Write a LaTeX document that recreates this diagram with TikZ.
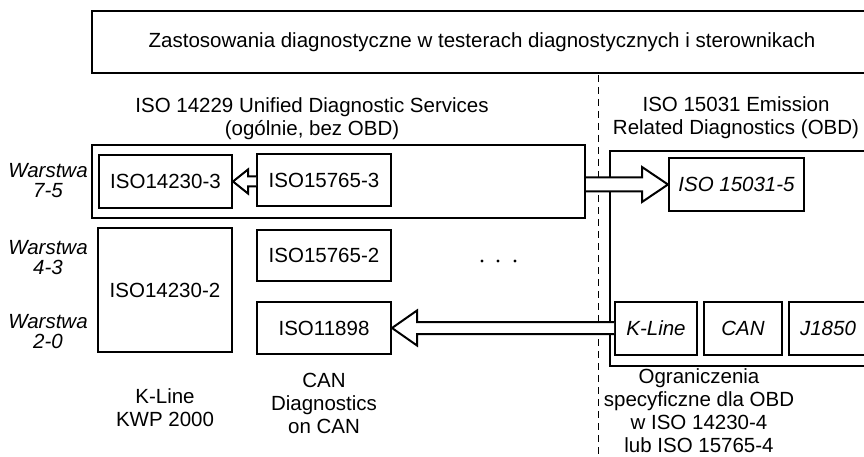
\documentclass[tikz,border=0pt]{standalone}
\usepackage{fontspec}
\setmainfont{Liberation Sans}
\usetikzlibrary{calc}

\tikzset{
  box/.style={draw, line width=2pt, inner sep=0pt, align=center,
    font=\fontsize{20.5}{23}\selectfont},
  frame/.style={draw, line width=2.4pt, inner sep=0pt},
  txt/.style={align=center, inner sep=0pt, font=\fontsize{20.5}{23}\selectfont},
  layer/.style={align=center, inner sep=0pt, font=\fontsize{20.5}{20}\selectfont\itshape},
  hollow/.style={line width=2pt, fill=white, line join=miter},
}

% 空心箭头：起点, 箭尖, 箭杆半宽, 箭头半宽, 箭头长度（带符号）
\newcommand{\hollowarrow}[5]{%
  \filldraw[hollow] let \p1=(#1), \p2=(#2) in
    (\x1,{\y2+#3}) -- ({\x2-(#5)},{\y2+#3}) -- ({\x2-(#5)},{\y2+#4}) -- (\p2)
    -- ({\x2-(#5)},{\y2-#4}) -- ({\x2-(#5)},{\y2-#3}) -- (\x1,{\y2-#3});}

\begin{document}
\begin{tikzpicture}[x=1pt, y=-1pt]
    \useasboundingbox (0,0) rectangle (864,457);

    % 分隔虚线
    \coordinate (cut top) at (598,75);
    \coordinate (cut bot) at (598,457);
    \draw[dash pattern=on 7pt off 5pt, line width=1pt] (cut top) -- (cut bot);

    % 顶部应用框
    \node[box, minimum width=780pt, minimum height=62pt] (apps) at (482,42)
        {Zastosowania diagnostyczne w testerach diagnostycznych i sterownikach};

    % 两侧标题
    \node[txt] (uds) at (312,119) {ISO 14229 Unified Diagnostic Services\\(ogólnie, bez OBD)};
    \node[txt] (obd) at (736,118) {ISO 15031 Emission\\Related Diagnostics (OBD)};

    % 外框
    \node[frame, minimum width=493pt, minimum height=73pt] (uds frame) at (338.5,181.5) {};
    \node[frame, minimum width=290pt, minimum height=215pt] (obd frame) at (755,258.5) {};

    % 层标签
    \node[layer] (w75) at (48,181) {Warstwa\\7-5};
    \node[layer] (w43) at (48,258) {Warstwa\\4-3};
    \node[layer] (w20) at (48,332) {Warstwa\\2-0};

    % K-Line 列
    \node[box, minimum width=133pt, minimum height=53pt] (kwp3) at (165.5,181.5) {ISO14230-3};
    \node[box, minimum width=134pt, minimum height=124pt] (kwp2) at (165,290) {ISO14230-2};

    % CAN 列
    \node[box, minimum width=134pt, minimum height=52pt] (can3) at (324,180) {ISO15765-3};
    \node[box, minimum width=134pt, minimum height=51pt] (can2) at (324,255.5) {ISO15765-2};
    \node[box, minimum width=134pt, minimum height=52pt] (can1) at (324,328) {ISO11898};

    % 省略号
    \foreach \dx in {482,498,515}
        \fill (\dx,261) circle (1.6pt);

    % OBD 列
    \node[box, minimum width=135pt, minimum height=53pt, font=\fontsize{20.5}{23}\selectfont\itshape]
        (obd5) at (736.5,184.5) {ISO 15031-5};
    \node[box, minimum width=82pt, minimum height=53pt, font=\fontsize{20.5}{23}\selectfont\itshape]
        (kline) at (656,328.5) {K-Line};
    \node[box, minimum width=78pt, minimum height=53pt, font=\fontsize{20.5}{23}\selectfont\itshape]
        (canbus) at (743,328.5) {CAN};
    \node[box, minimum width=78pt, minimum height=53pt, font=\fontsize{20.5}{23}\selectfont\itshape]
        (j1850) at (828,328.5) {J1850};

    % 空心箭头（最后绘制，盖住虚线与外框）
    \hollowarrow{can3.west}{kwp3.east}{5pt}{12pt}{-15pt}
    \hollowarrow{uds frame.east}{obd5.west}{7pt}{17.5pt}{26pt}
    \hollowarrow{kline.west}{can1.east}{6pt}{17.5pt}{-25pt}

    % 底部说明
    \node[txt] (kwp note) at (165,408) {K-Line\\KWP 2000};
    \node[txt] (can note) at (324,403) {CAN\\Diagnostics\\on CAN};
    \node[txt] (obd note) at (699,411) {Ograniczenia\\specyficzne dla OBD\\w ISO 14230-4\\lub ISO 15765-4};

\end{tikzpicture}
\end{document}
